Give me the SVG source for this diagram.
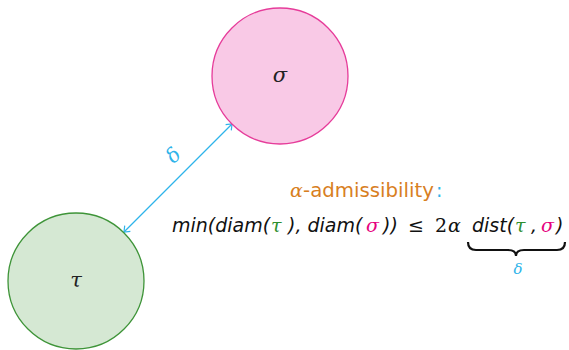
<svg xmlns="http://www.w3.org/2000/svg" width="569" height="350" viewBox="0 0 569 350">
<defs>
<style>
.sans{font-family:"DejaVu Sans","Liberation Sans",sans-serif;}
.it{font-style:italic;}
.math{font-family:"DejaVu Serif","Liberation Serif",serif;font-style:italic;}
.rm{font-family:"DejaVu Serif","Liberation Serif",serif;font-style:normal;}
.cyan{fill:#2fb4ea;}
.green{fill:#2e8f2e;}
.mag{fill:#e6007e;}
.orange{fill:#d8801f;}
</style>
<marker id="ah" viewBox="-6 -5 8 10" markerWidth="8" markerHeight="10" refX="0" refY="0" orient="auto-start-reverse" markerUnits="userSpaceOnUse">
<path d="M-5,-4 L0,0 L-5,4" fill="none" stroke="#2fb4ea" stroke-width="1.2"/>
</marker>
</defs>
<rect width="569" height="350" fill="#ffffff"/>
<g id="connectors">
<line x1="124" y1="232" x2="232" y2="124" stroke="#2fb4ea" stroke-width="1.2" marker-start="url(#ah)" marker-end="url(#ah)"/>
<text class="math cyan" x="0" y="0" font-size="20" text-anchor="middle" transform="translate(178,160) rotate(-45)">δ</text>
</g>
<g id="sigma">
<circle cx="280" cy="76" r="68" fill="#f9c9e6" stroke="#e63c9a" stroke-width="1.3"/>
<text class="math" x="280" y="82" font-size="21" text-anchor="middle" fill="#222">σ</text>
</g>
<g id="tau">
<circle cx="76" cy="281" r="68" fill="#d5e8d3" stroke="#3e9438" stroke-width="1.3"/>
<text class="math" x="76" y="287" font-size="21" text-anchor="middle" fill="#222">τ</text>
</g>
<g id="formula">
<text y="197" font-size="19"><tspan class="math orange" x="290">α</tspan><tspan class="sans orange" x="303" textLength="131" lengthAdjust="spacingAndGlyphs">-admissibility</tspan><tspan class="sans cyan" x="436">:</tspan></text>
<text y="232" font-size="19" fill="#111"><tspan class="sans it" x="172">min(diam(</tspan><tspan class="math green" x="271">τ</tspan><tspan class="sans it" x="288">), diam(</tspan><tspan class="math mag" x="366">σ</tspan><tspan class="sans it" x="383">))</tspan><tspan class="rm" x="408">≤</tspan><tspan class="rm" x="435">2</tspan><tspan class="math" x="448">α</tspan><tspan class="sans it" x="472">dist(</tspan><tspan class="math green" x="515">τ</tspan><tspan class="sans it" x="531">,</tspan><tspan class="math mag" x="541">σ</tspan><tspan class="sans it" x="556">)</tspan></text>
<path d="M468,242 Q468,250 476,250 L508,250 Q516,250 516,256 Q516,250 524,250 L557,250 Q565,250 565,242" fill="none" stroke="#111" stroke-width="2.2"/>
<text class="math cyan" x="518" y="274" font-size="15" text-anchor="middle">δ</text>
</g>
</svg>
